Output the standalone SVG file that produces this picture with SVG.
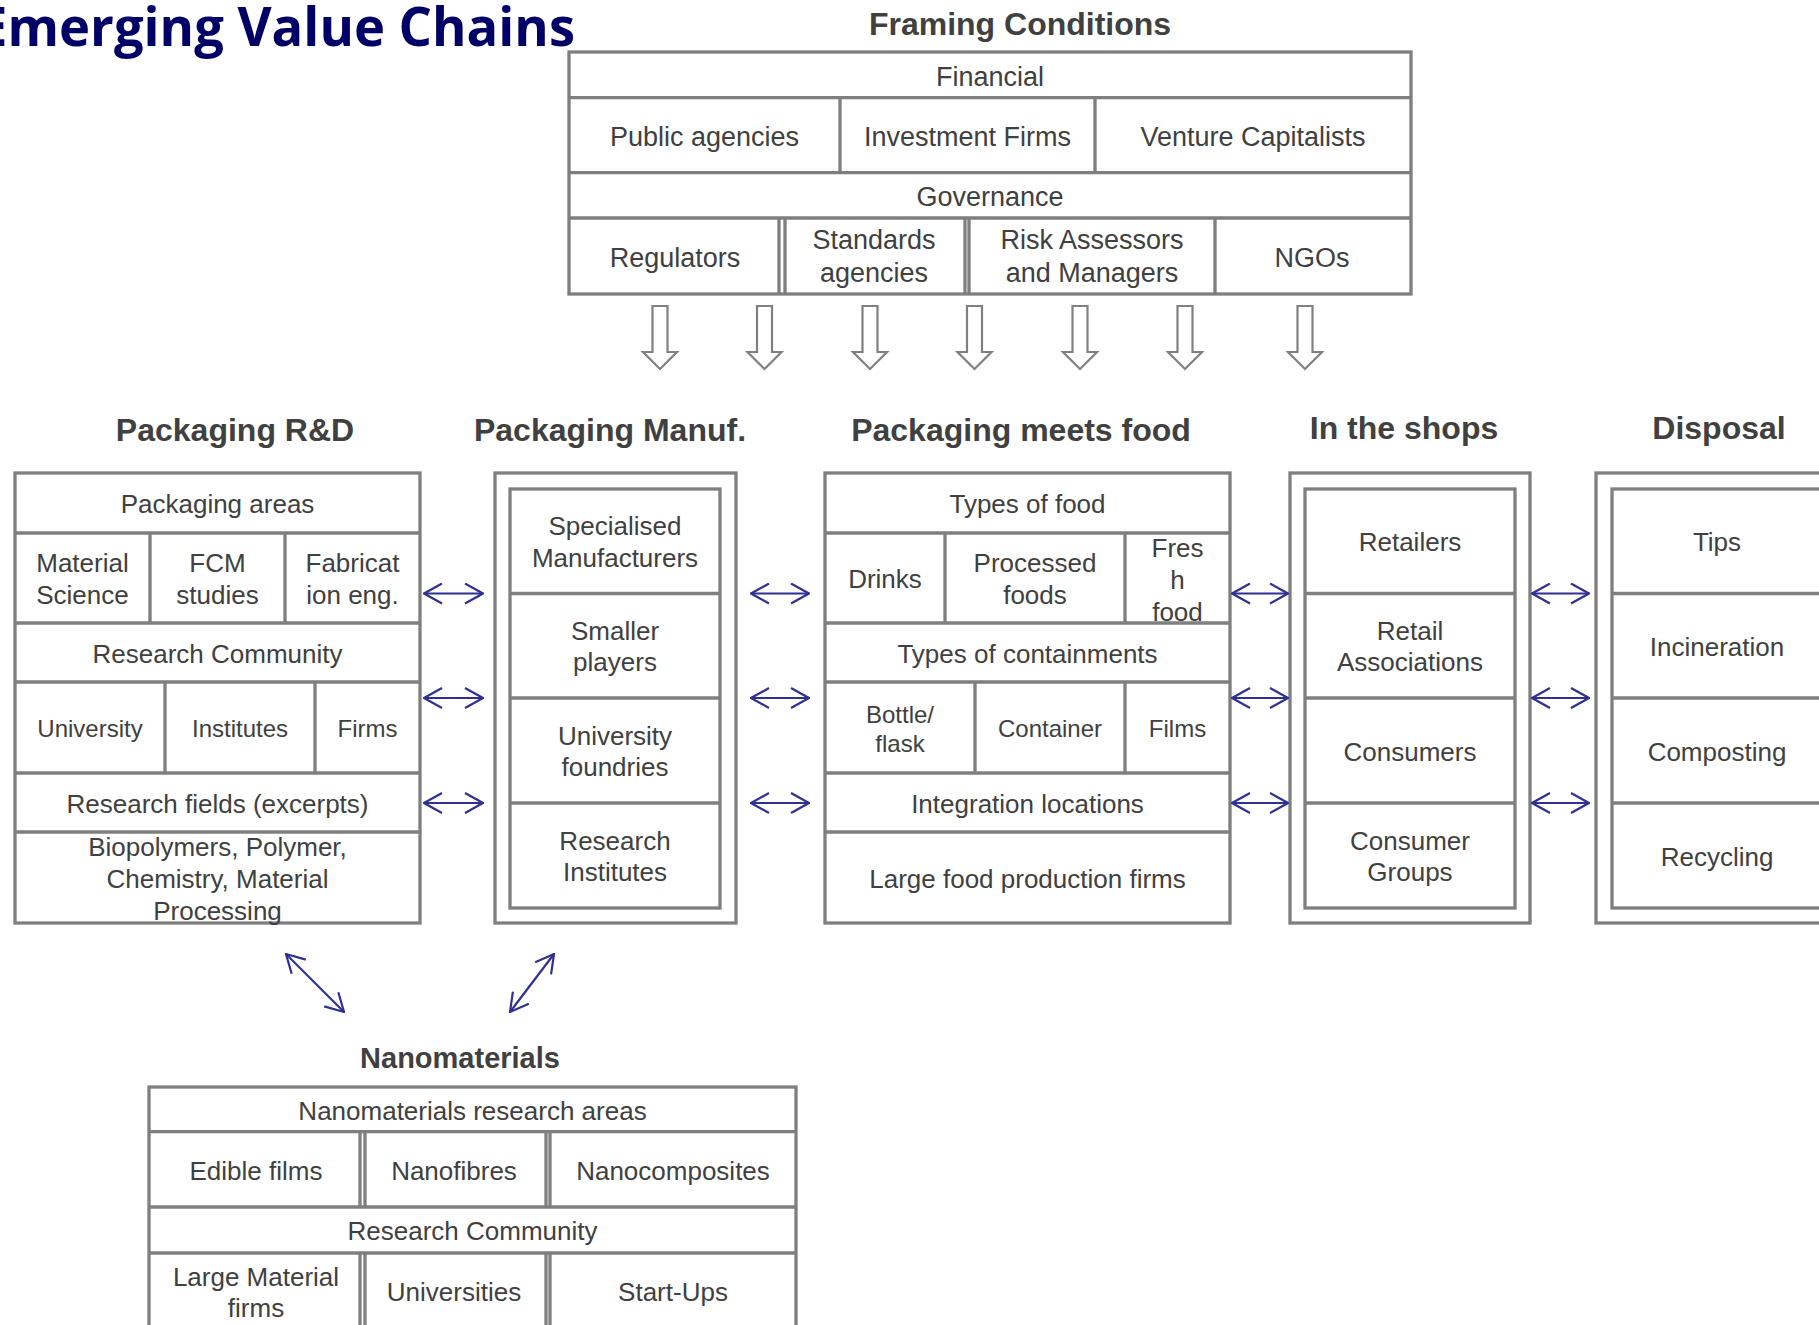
<svg xmlns="http://www.w3.org/2000/svg" width="1819" height="1325" viewBox="0 0 1819 1325">
  <style>
    .box { fill: none; stroke: #7f7f7f; stroke-width: 3.3; }
    .t { font-family: "Liberation Sans", Arial, sans-serif; font-size: 26px; fill: #404040; text-anchor: middle; }
    .s { font-size: 24px; }
    .f { font-size: 27px; }
    .h { font-family: "Liberation Sans", Arial, sans-serif; font-weight: bold; font-size: 32px; fill: #404040; text-anchor: middle; }
    .link { fill: none; stroke: #2e3192; stroke-width: 2.2; marker-start: url(#chev); marker-end: url(#chev); }
    .down { fill: #ffffff; stroke: #808080; stroke-width: 2.2; }
  </style>
  <defs>
    <marker id="chev" viewBox="0 0 20 22" refX="19" refY="11" markerWidth="20" markerHeight="22" markerUnits="userSpaceOnUse" orient="auto-start-reverse">
      <path d="M1,1 L19,11 L1,21" fill="none" stroke="#2e3192" stroke-width="2.2"/>
    </marker>
    <path id="downArrow" d="M-7.5,306 L7.5,306 L7.5,352 L17,352 L0,369 L-17,352 L-7.5,352 Z"/>
  </defs>

  <rect width="1819" height="1325" fill="#ffffff"/>

  <!-- page heading (runs off the left edge of the page) -->
  <text x="-22" y="46" textLength="597" lengthAdjust="spacingAndGlyphs" font-family="'Open Sans', sans-serif" font-weight="bold" font-size="53" fill="#000066">Emerging Value Chains</text>

  <!-- Framing conditions -->
  <g id="framing-conditions">
    <text class="h" x="1020" y="35">Framing Conditions</text>
    <rect class="box" x="569" y="52" width="842" height="242"/>
    <path class="box" d="M569,97.7 H1411 M569,172.7 H1411 M569,218 H1411 M840,97.7 V172.7 M1095,97.7 V172.7 M779,218 V294 M785,218 V294 M965,218 V294 M969,218 V294 M1215,218 V294"/>
    <text class="t f" x="990" y="85.5">Financial</text>
    <text class="t f" x="704.5" y="145.5">Public agencies</text>
    <text class="t f" x="967.5" y="145.5">Investment Firms</text>
    <text class="t f" x="1253" y="145.5">Venture Capitalists</text>
    <text class="t f" x="990" y="206">Governance</text>
    <text class="t f" x="675" y="266.5">Regulators</text>
    <text class="t f" x="874" y="249">Standards</text>
    <text class="t f" x="874" y="282">agencies</text>
    <text class="t f" x="1092" y="249">Risk Assessors</text>
    <text class="t f" x="1092" y="282">and Managers</text>
    <text class="t f" x="1312" y="266.5">NGOs</text>
  </g>

  <!-- Packaging R&D -->
  <g id="packaging-rd">
    <text class="h" x="235" y="441">Packaging R&amp;D</text>
    <rect class="box" x="15" y="473" width="405" height="450"/>
    <path class="box" d="M15,533 H420 M15,623 H420 M15,682 H420 M15,773 H420 M15,832 H420 M150,533 V623 M285,533 V623 M165,682 V773 M315,682 V773"/>
    <text class="t" x="217.5" y="513">Packaging areas</text>
    <text class="t" x="82.5" y="572">Material</text>
    <text class="t" x="82.5" y="604">Science</text>
    <text class="t" x="217.5" y="572">FCM</text>
    <text class="t" x="217.5" y="604">studies</text>
    <text class="t" x="352.5" y="572">Fabricat</text>
    <text class="t" x="352.5" y="604">ion eng.</text>
    <text class="t" x="217.5" y="663">Research Community</text>
    <text class="t s" x="90" y="737">University</text>
    <text class="t s" x="240" y="737">Institutes</text>
    <text class="t s" x="367.5" y="737">Firms</text>
    <text class="t" x="217.5" y="813">Research fields (excerpts)</text>
    <text class="t" x="217.5" y="856">Biopolymers, Polymer,</text>
    <text class="t" x="217.5" y="888">Chemistry, Material</text>
    <text class="t" x="217.5" y="920">Processing</text>
  </g>

  <!-- Packaging manufacturing -->
  <g id="packaging-manuf">
    <text class="h" x="610" y="441">Packaging Manuf.</text>
    <rect class="box" x="495" y="473" width="241" height="450"/>
    <rect class="box" x="510" y="489" width="210" height="419"/>
    <path class="box" d="M510,593.5 H720 M510,698 H720 M510,803 H720"/>
    <text class="t" x="615" y="535">Specialised</text>
    <text class="t" x="615" y="567">Manufacturers</text>
    <text class="t" x="615" y="640">Smaller</text>
    <text class="t" x="615" y="671">players</text>
    <text class="t" x="615" y="745">University</text>
    <text class="t" x="615" y="776">foundries</text>
    <text class="t" x="615" y="850">Research</text>
    <text class="t" x="615" y="881">Institutes</text>
  </g>

  <!-- Packaging meets food -->
  <g id="packaging-meets-food">
    <text class="h" x="1021" y="441">Packaging meets food</text>
    <rect class="box" x="825" y="473" width="405" height="450"/>
    <path class="box" d="M825,533 H1230 M825,623 H1230 M825,682 H1230 M825,773 H1230 M825,832 H1230 M945,533 V623 M1125,533 V623 M975,682 V773 M1125,682 V773"/>
    <text class="t" x="1027.5" y="513">Types of food</text>
    <text class="t" x="885" y="588">Drinks</text>
    <text class="t" x="1035" y="572">Processed</text>
    <text class="t" x="1035" y="604">foods</text>
    <text class="t" x="1177.5" y="557">Fres</text>
    <text class="t" x="1177.5" y="589">h</text>
    <text class="t" x="1177.5" y="621">food</text>
    <text class="t" x="1027.5" y="663">Types of containments</text>
    <text class="t s" x="900" y="723">Bottle/</text>
    <text class="t s" x="900" y="752">flask</text>
    <text class="t s" x="1050" y="737">Container</text>
    <text class="t s" x="1177.5" y="737">Films</text>
    <text class="t" x="1027.5" y="813">Integration locations</text>
    <text class="t" x="1027.5" y="888">Large food production firms</text>
  </g>

  <!-- In the shops -->
  <g id="in-the-shops">
    <text class="h" x="1404" y="439">In the shops</text>
    <rect class="box" x="1290" y="473" width="240" height="450"/>
    <rect class="box" x="1305" y="489" width="210" height="419"/>
    <path class="box" d="M1305,593.5 H1515 M1305,698 H1515 M1305,803 H1515"/>
    <text class="t" x="1410" y="551">Retailers</text>
    <text class="t" x="1410" y="640">Retail</text>
    <text class="t" x="1410" y="671">Associations</text>
    <text class="t" x="1410" y="760.5">Consumers</text>
    <text class="t" x="1410" y="850">Consumer</text>
    <text class="t" x="1410" y="881">Groups</text>
  </g>

  <!-- Disposal -->
  <g id="disposal">
    <text class="h" x="1719" y="439">Disposal</text>
    <rect class="box" x="1596" y="473" width="250" height="450"/>
    <rect class="box" x="1612" y="489" width="215" height="419"/>
    <path class="box" d="M1612,593.5 H1827 M1612,698 H1827 M1612,803 H1827"/>
    <text class="t" x="1717" y="551">Tips</text>
    <text class="t" x="1717" y="656">Incineration</text>
    <text class="t" x="1717" y="760.5">Composting</text>
    <text class="t" x="1717" y="865.5">Recycling</text>
  </g>

  <!-- Nanomaterials -->
  <g id="nanomaterials">
    <text class="h" x="460" y="1068" style="font-size:29px">Nanomaterials</text>
    <rect class="box" x="149" y="1087" width="647" height="270"/>
    <path class="box" d="M149,1131.7 H796 M149,1207 H796 M149,1253 H796 M360,1131.7 V1207 M365,1131.7 V1207 M546,1131.7 V1207 M550,1131.7 V1207 M360,1253 V1357 M365,1253 V1357 M546,1253 V1357 M550,1253 V1357"/>
    <text class="t" x="472.5" y="1120">Nanomaterials research areas</text>
    <text class="t" x="256" y="1180">Edible films</text>
    <text class="t" x="454" y="1180">Nanofibres</text>
    <text class="t" x="673" y="1180">Nanocomposites</text>
    <text class="t" x="472.5" y="1240">Research Community</text>
    <text class="t" x="256" y="1286">Large Material</text>
    <text class="t" x="256" y="1317">firms</text>
    <text class="t" x="454" y="1301">Universities</text>
    <text class="t" x="673" y="1301">Start-Ups</text>
  </g>

  <!-- Connectors -->
  <g id="connectors">
    <use href="#downArrow" class="down" x="660"/>
    <use href="#downArrow" class="down" x="764.5"/>
    <use href="#downArrow" class="down" x="870"/>
    <use href="#downArrow" class="down" x="974.5"/>
    <use href="#downArrow" class="down" x="1080"/>
    <use href="#downArrow" class="down" x="1185"/>
    <use href="#downArrow" class="down" x="1305"/>

    <path class="link" d="M424,593.5 H483"/>
    <path class="link" d="M424,698 H483"/>
    <path class="link" d="M424,803 H483"/>
    <path class="link" d="M751,593.5 H809"/>
    <path class="link" d="M751,698 H809"/>
    <path class="link" d="M751,803 H809"/>
    <path class="link" d="M1232,593.5 H1288"/>
    <path class="link" d="M1232,698 H1288"/>
    <path class="link" d="M1232,803 H1288"/>
    <path class="link" d="M1532,593.5 H1589"/>
    <path class="link" d="M1532,698 H1589"/>
    <path class="link" d="M1532,803 H1589"/>

    <path class="link" d="M286,954 L344,1012"/>
    <path class="link" d="M554,954 L510,1012"/>
  </g>
</svg>
